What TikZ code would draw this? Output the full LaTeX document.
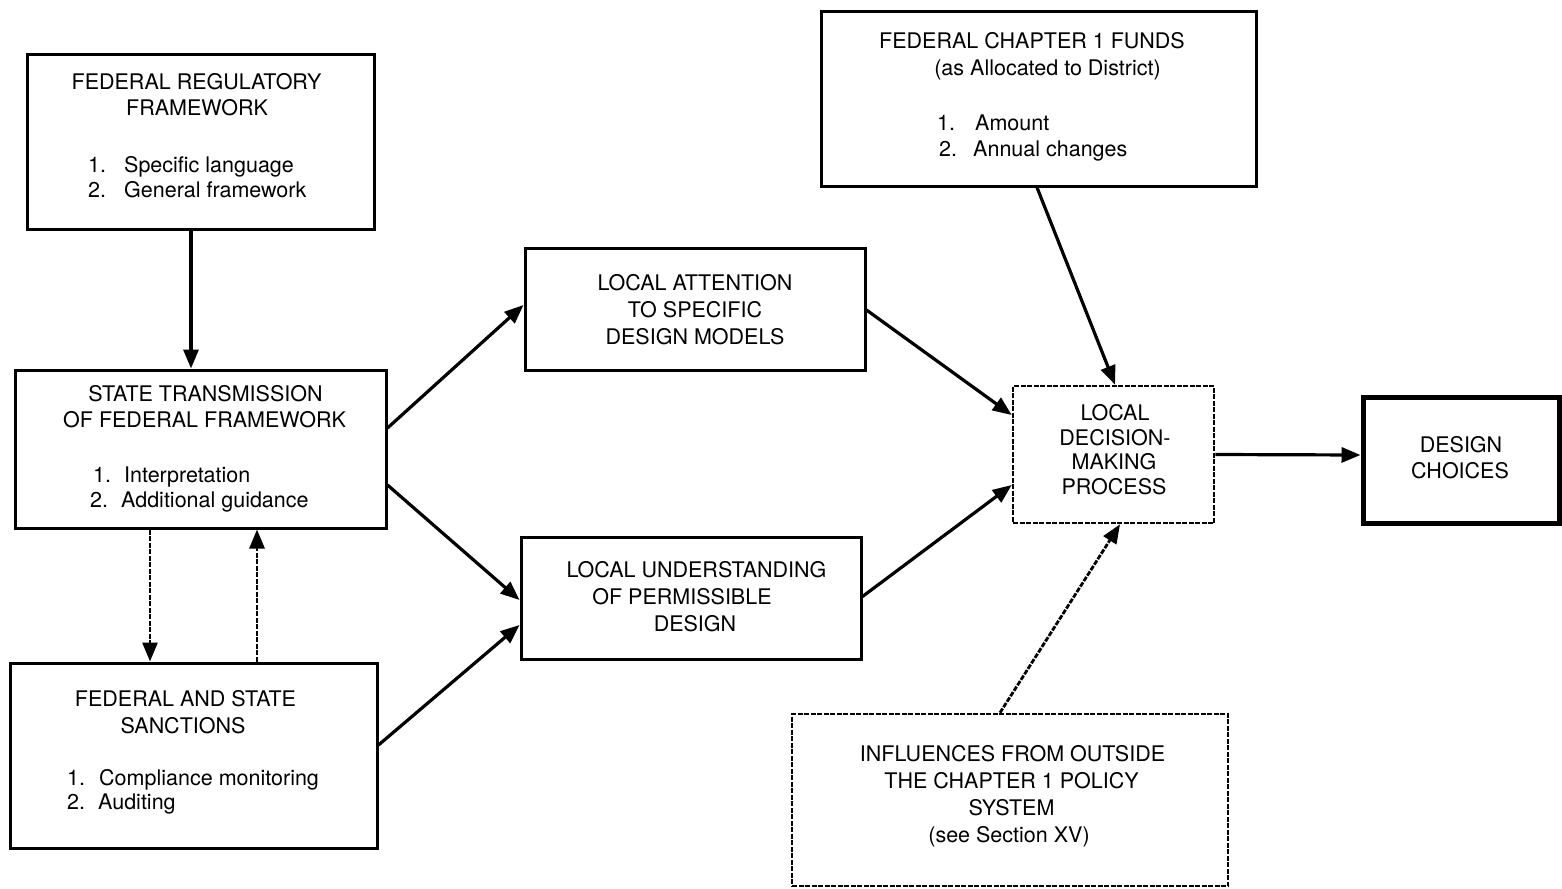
\documentclass[tikz,border=0pt]{standalone}
\usepackage{fontspec}
\setmainfont{TeX Gyre Heros}
\usetikzlibrary{arrows.meta}
\begin{document}
\begin{tikzpicture}[x=1pt,y=-1pt,
  box/.style={draw, line width=3pt, inner sep=0pt, minimum width=#1},
  dbox/.style={draw, line width=2.6pt, dash pattern=on 5pt off 1.5pt, inner sep=0pt},
  txt/.style={anchor=base, inner sep=0pt, font=\fontsize{21.5}{26}\selectfont},
  ltxt/.style={anchor=base west, inner sep=0pt, font=\fontsize{21.5}{26}\selectfont},
  conn/.style={line width=3.2pt, -{Triangle[length=19pt,width=15pt]}},
  dconn/.style={line width=2.8pt, dash pattern=on 5pt off 1.5pt, -{Triangle[length=19pt,width=15pt]}}
]
\useasboundingbox[fill=white] (0,0) rectangle (1562,888);

% boxes
\node[box=347pt, minimum height=174pt] (fedreg) at (200.5,142) {};
\node[box=371pt, minimum height=158pt] (state) at (200.5,449) {};
\node[box=367pt, minimum height=185pt] (sanc) at (193.5,755.5) {};
\node[box=340pt, minimum height=122pt] (attn) at (695,309) {};
\node[box=340pt, minimum height=122pt] (und) at (691,598) {};
\node[box=435pt, minimum height=174pt] (funds) at (1038.5,99) {};
\node[dbox, minimum width=201pt, minimum height=137pt] (dec) at (1113.5,454.5) {};
\node[draw, line width=5pt, inner sep=0pt, minimum width=196pt, minimum height=126pt] (choice) at (1461,460) {};
\node[dbox, minimum width=436pt, minimum height=172pt] (infl) at (1010,800) {};

% texts
\node[txt] (t1a) at (196.5,90) {FEDERAL REGULATORY};
\node[txt] (t1b) at (197,116) {FRAMEWORK};
\node[ltxt] (t1c) at (88,172) {\makebox[36pt][l]{1.}Specific language};
\node[ltxt] (t1d) at (88,197) {\makebox[36pt][l]{2.}General framework};

\node[txt] (t2a) at (205.5,401) {STATE TRANSMISSION};
\node[txt] (t2b) at (204.5,427) {OF FEDERAL FRAMEWORK};
\node[ltxt] (t2c) at (93,482) {\makebox[31pt][l]{1.}Interpretation};
\node[ltxt] (t2d) at (90,507) {\makebox[31pt][l]{2.}Additional guidance};

\node[txt] (t3a) at (185.5,706) {FEDERAL AND STATE};
\node[txt] (t3b) at (183,733) {SANCTIONS};
\node[ltxt] (t3c) at (67,785) {\makebox[32pt][l]{1.}Compliance monitoring};
\node[ltxt] (t3d) at (67,809) {\makebox[31pt][l]{2.}Auditing};

\node[txt] (t4a) at (695,290) {LOCAL ATTENTION};
\node[txt] (t4b) at (695,317) {TO SPECIFIC};
\node[txt] (t4c) at (695,344) {DESIGN MODELS};

\node[txt] (t5a) at (696.5,577) {LOCAL UNDERSTANDING};
\node[txt] (t5b) at (682,604) {OF PERMISSIBLE};
\node[txt] (t5c) at (695,631) {DESIGN};

\node[txt] (t6a) at (1032,49) {FEDERAL CHAPTER 1 FUNDS};
\node[txt] (t6b) at (1047.5,76) {(as Allocated to District)};
\node[ltxt] (t6c) at (937,130) {\makebox[38pt][l]{1.}Amount};
\node[ltxt] (t6d) at (939,157) {\makebox[34pt][l]{2.}Annual changes};

\node[txt] (t7a) at (1115,420) {LOCAL};
\node[txt] (t7b) at (1115,445) {DECISION-};
\node[txt] (t7c) at (1114,469) {MAKING};
\node[txt] (t7d) at (1114,494) {PROCESS};

\node[txt] (t8a) at (1461,452) {DESIGN};
\node[txt] (t8b) at (1460,478) {CHOICES};

\node[txt] (t9a) at (1012.5,761) {INFLUENCES FROM OUTSIDE};
\node[txt] (t9b) at (1011.5,788) {THE CHAPTER 1 POLICY};
\node[txt] (t9c) at (1011.5,815) {SYSTEM};
\node[txt] (t9d) at (1009,842) {(see Section XV)};

% connectors
\draw[conn] ([xshift=-9.5pt]fedreg.south) -- ([xshift=-9.5pt]state.north);
\draw[conn] ([yshift=21pt]state.east) -- ([yshift=4pt]attn.west);
\draw[conn] ([yshift=-36pt]state.east) -- ([yshift=-2pt]und.west);
\draw[conn] ([yshift=10.5pt]sanc.east) -- ([yshift=-27pt]und.west);
\draw[conn] ([yshift=-1pt]attn.east) -- ([yshift=39.5pt]dec.west);
\draw[conn] ([yshift=1.5pt]und.east) -- ([yshift=-30.5pt]dec.west);
\draw[conn] ([xshift=-1.5pt]funds.south) -- ([xshift=1.5pt]dec.north);
\draw[dconn] ([xshift=-10pt]infl.north) -- ([xshift=6.5pt]dec.south);
\draw[conn] (dec.east) -- ([yshift=5pt]choice.west);
\draw[dconn] ([xshift=-50.5pt]state.south) -- ([xshift=-43.5pt]sanc.north);
\draw[dconn] ([xshift=63.5pt]sanc.north) -- ([xshift=56.5pt]state.south);
\end{tikzpicture}
\end{document}
